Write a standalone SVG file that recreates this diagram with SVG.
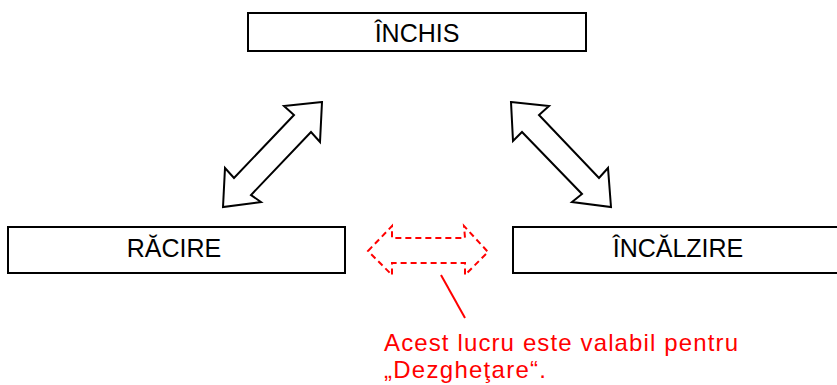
<svg xmlns="http://www.w3.org/2000/svg" width="837" height="385" viewBox="0 0 837 385">
<style>
.box{fill:#fff;stroke:#000;stroke-width:2}
.lbl{font-family:"Liberation Sans",Arial,sans-serif;font-size:25px;fill:#000;text-anchor:middle}
.arr{fill:#fff;stroke:#000;stroke-width:2;stroke-linejoin:miter}
.red{fill:none;stroke:#f00;stroke-width:2;stroke-dasharray:6,4}
.note{font-family:"Liberation Sans",Arial,sans-serif;font-size:24px;fill:#f00}
</style>
<rect width="837" height="385" fill="#fff"/>
<g id="inchis"><rect class="box" x="248" y="13" width="338" height="38"/><text class="lbl" x="417" y="42">ÎNCHIS</text></g>
<g id="racire"><rect class="box" x="8" y="227" width="337" height="46"/><text class="lbl" x="174" y="257">RĂCIRE</text></g>
<g id="incalzire"><rect class="box" x="513" y="227" width="330" height="46"/><text class="lbl" x="678" y="257">ÎNCĂLZIRE</text></g>
<g id="connectors">
<polygon class="arr" points="322,102 284,106 294,115 234,178 225,168 223,207 261,202 251,195 311,132 320,142"/>
<polygon class="arr" points="511,102 549,106 539,115 599,178 608,168 611,207 572,202 582,194 522,132 513,141"/>
<polygon class="red" points="368,251 392,226 392,238 465,238 464,226 488,252 465,275 465,263 392,263 392,275"/>
<line x1="441" y1="275" x2="465" y2="318" stroke="#f00" stroke-width="2"/>
</g>
<g id="note"><text class="note" x="384" y="351" textLength="354" lengthAdjust="spacing">Acest lucru este valabil pentru</text><text class="note" x="384" y="378" textLength="162" lengthAdjust="spacing">„Dezgheţare“.</text></g>
</svg>
